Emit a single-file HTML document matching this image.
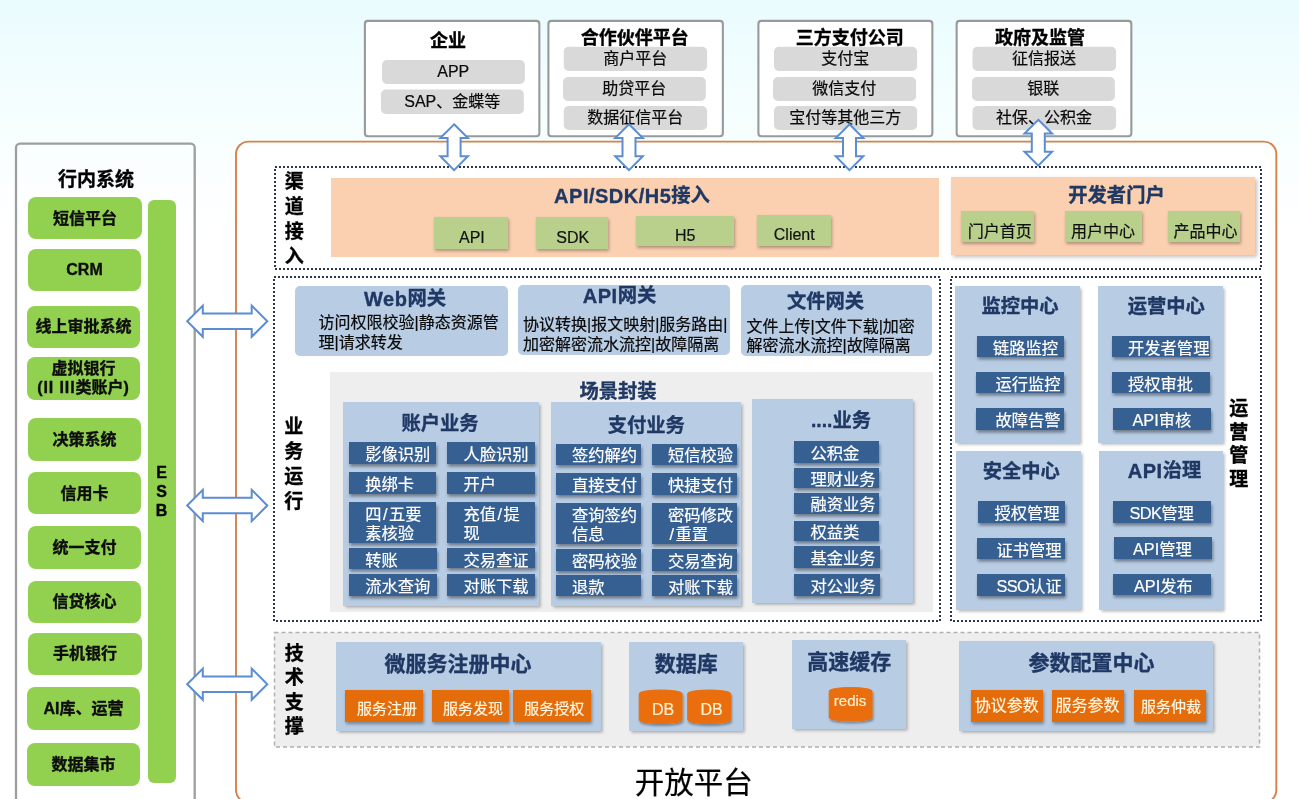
<!DOCTYPE html>
<html lang="zh-CN">
<head>
<meta charset="utf-8">
<title>开放平台</title>
<style>
html,body{margin:0;padding:0;}
body{width:1299px;height:799px;overflow:hidden;position:relative;font-family:"Liberation Sans", "Noto Sans CJK SC", sans-serif;
 background:linear-gradient(180deg,#eafcfe 0px,#effdfe 50px,#f5fefe 110px,#fbfeff 170px,#ffffff 240px);}
div{position:absolute;box-sizing:border-box;}
.stage{left:0;top:0;width:1299px;height:799px;overflow:hidden;will-change:transform;}
svg{position:absolute;left:0;top:0;}
.t{display:flex;align-items:center;justify-content:center;white-space:nowrap;line-height:1;}
.ttl-left{font-weight:bold;font-size:19px;color:#000;}
.g{background:#92d050;border-radius:8px;display:flex;align-items:center;justify-content:center;text-align:center;font-weight:bold;font-size:16px;line-height:19px;color:#0d0d0d;}
.g i{font-style:normal;letter-spacing:0.9px;}
.esb{background:#92d050;border-radius:6px;display:flex;align-items:center;justify-content:center;text-align:center;font-weight:bold;font-size:16px;line-height:19px;color:#000;}
.pilltxt{font-size:16px;color:#0a0a0a;}
.pilltxt,.gwt,.lg,.db,.ob,.cyltxt,.big{-webkit-text-stroke:0.2px currentColor;}
.ttl-left,.g,.ttl-top,.vt,.ttl,.ttl2{-webkit-text-stroke:0.35px currentColor;}
.ttl-top{font-weight:bold;font-size:18px;color:#000;}
.vt{font-weight:bold;color:#000;writing-mode:vertical-rl;text-orientation:upright;line-height:1;white-space:nowrap;}
.salmon{background:#fbd0b0;}
.sh{box-shadow:2px 2px 4px rgba(0,0,0,0.25);}
.sh1{box-shadow:1.5px 1.5px 3px rgba(0,0,0,0.3);}
.ttl{font-weight:bold;font-size:19.3px;color:#1f3864;}
.ttl i,.ttl2 i{font-style:normal;letter-spacing:0.5px;font-size:20px;}
.ttl2{font-weight:bold;font-size:21px;color:#1f3864;}
.lg{background:#b9d08c;box-shadow:1px 2px 3px rgba(0,0,0,0.3);display:flex;align-items:center;justify-content:center;font-size:16px;color:#111;line-height:1;}
.lg span{position:relative;}
.gw{background:#b8cce4;border-radius:5px;}
.gwt{justify-content:flex-start;align-items:flex-start;white-space:nowrap;font-size:16px;line-height:19.5px;color:#0a0a0a;display:block;}
.scene{background:#eeeeee;}
.blue{background:#b8cce4;}
.db{background:#376092;box-shadow:1px 2.5px 3px rgba(0,0,0,0.4);display:flex;align-items:center;justify-content:flex-start;font-size:16.3px;line-height:18.8px;color:#fff;white-space:nowrap;}
.db span{position:relative;}
.db u{text-decoration:none;margin:0 1.5px;}
.db i{font-style:normal;letter-spacing:-0.6px;}
.ob span{position:relative;}
.ob{background:#e46c0a;box-shadow:1px 2px 3px rgba(0,0,0,0.35);display:flex;align-items:center;justify-content:center;color:#fff6e0;line-height:1;white-space:nowrap;}
.cyltxt{color:#fff3cf;}
.big{font-size:29.5px;color:#000;}
</style>
</head>
<body>
<div class="stage">
<svg width="1299" height="799" viewBox="0 0 1299 799"><rect x="16" y="143.6" width="178.7" height="700" rx="4" fill="none" stroke="#9d9f9f" stroke-width="2.3"/></svg>
<div class="t ttl-left" style="left:-4px;top:165px;width:200px;height:28px;">行内系统</div>
<div class="g" style="left:28px;top:197px;width:114px;height:42px;"><span>短信平台</span></div>
<div class="g" style="left:28px;top:249px;width:113px;height:41.5px;"><span>CRM</span></div>
<div class="g" style="left:27px;top:306px;width:113px;height:41.5px;"><span>线上审批系统</span></div>
<div class="g" style="left:27px;top:357px;width:113px;height:42.5px;"><span>虚拟银行<br><i>(II III</i>类账户<i>)</i></span></div>
<div class="g" style="left:28px;top:418px;width:113px;height:42.5px;"><span>决策系统</span></div>
<div class="g" style="left:28px;top:472px;width:113px;height:42px;"><span>信用卡</span></div>
<div class="g" style="left:28px;top:526px;width:113px;height:42.5px;"><span>统一支付</span></div>
<div class="g" style="left:28px;top:581px;width:113px;height:41.5px;"><span>信贷核心</span></div>
<div class="g" style="left:28px;top:633px;width:114px;height:41.5px;"><span>手机银行</span></div>
<div class="g" style="left:27px;top:687px;width:113px;height:42.5px;"><span>AI库、运营</span></div>
<div class="g" style="left:27px;top:743px;width:113px;height:42.5px;"><span>数据集市</span></div>
<div class="esb" style="left:148px;top:200px;width:28px;height:582.5px;"></div>
<div class="vt" style="left:153px;top:463.5px;width:16px;font-size:16px;letter-spacing:2.1px;">ESB</div>
<svg width="1299" height="799" viewBox="0 0 1299 799"><rect x="364.9" y="20.9" width="174.45" height="115.3" rx="3" fill="#ffffff" stroke="#979a9a" stroke-width="2.1"/><rect x="382" y="60" width="142.85" height="24.0" rx="5" fill="#d9d9d9"/><rect x="381" y="89.5" width="142.85" height="24.5" rx="5" fill="#d9d9d9"/><rect x="548.4" y="20.9" width="174.45" height="115.3" rx="3" fill="#ffffff" stroke="#979a9a" stroke-width="2.1"/><rect x="563.75" y="46.75" width="143.35" height="24.25" rx="5" fill="#d9d9d9"/><rect x="563" y="77" width="142.85" height="24.0" rx="5" fill="#d9d9d9"/><rect x="563.75" y="106" width="143.35" height="24.0" rx="5" fill="#d9d9d9"/><rect x="758.4" y="20.9" width="173.95" height="115.3" rx="3" fill="#ffffff" stroke="#979a9a" stroke-width="2.1"/><rect x="774" y="46.75" width="143.1" height="24.25" rx="5" fill="#d9d9d9"/><rect x="773" y="77" width="143.1" height="24.0" rx="5" fill="#d9d9d9"/><rect x="774" y="106" width="143.1" height="24.0" rx="5" fill="#d9d9d9"/><rect x="956.65" y="20.9" width="174.7" height="115.3" rx="3" fill="#ffffff" stroke="#979a9a" stroke-width="2.1"/><rect x="972.5" y="46.75" width="143.6" height="24.25" rx="5" fill="#d9d9d9"/><rect x="972" y="77" width="142.85" height="24.0" rx="5" fill="#d9d9d9"/><rect x="972.5" y="106" width="143.6" height="24.0" rx="5" fill="#d9d9d9"/></svg>
<div class="t pilltxt" style="left:382px;top:60.6px;width:142.5px;height:23.5px;">APP</div>
<div class="t pilltxt" style="left:381px;top:90.1px;width:142.5px;height:24.0px;">SAP、金蝶等</div>
<div class="t ttl-top" style="left:348px;top:26.5px;width:200px;height:28px;">企业</div>
<div class="t pilltxt" style="left:563.75px;top:47.35px;width:143.0px;height:23.75px;">商户平台</div>
<div class="t pilltxt" style="left:563px;top:77.6px;width:142.5px;height:23.5px;">助贷平台</div>
<div class="t pilltxt" style="left:563.75px;top:106.6px;width:143.0px;height:23.5px;">数据征信平台</div>
<div class="t ttl-top" style="left:534.75px;top:23.5px;width:200px;height:28px;">合作伙伴平台</div>
<div class="t pilltxt" style="left:774px;top:47.35px;width:142.75px;height:23.75px;">支付宝</div>
<div class="t pilltxt" style="left:773px;top:77.6px;width:142.75px;height:23.5px;">微信支付</div>
<div class="t pilltxt" style="left:774px;top:106.6px;width:142.75px;height:23.5px;">宝付等其他三方</div>
<div class="t ttl-top" style="left:749.75px;top:23.5px;width:200px;height:28px;">三方支付公司</div>
<div class="t pilltxt" style="left:972.5px;top:47.35px;width:143.25px;height:23.75px;">征信报送</div>
<div class="t pilltxt" style="left:972px;top:77.6px;width:142.5px;height:23.5px;">银联</div>
<div class="t pilltxt" style="left:972.5px;top:106.6px;width:143.25px;height:23.5px;">社保、公积金</div>
<div class="t ttl-top" style="left:940px;top:23.5px;width:200px;height:28px;">政府及监管</div>
<svg width="1299" height="799" viewBox="0 0 1299 799"><rect x="236" y="141.6" width="1040.3" height="661" rx="12.5" fill="#ffffff" stroke="#d4834f" stroke-width="1.9"/></svg>
<svg class="lines" width="1299" height="799" viewBox="0 0 1299 799"><rect x="275" y="167" width="986" height="102" fill="none" stroke="#2c3550" stroke-width="2" stroke-dasharray="2 2"/><rect x="274" y="277" width="666" height="344" fill="none" stroke="#2c3550" stroke-width="2" stroke-dasharray="2 2"/><rect x="951" y="277" width="310" height="344" fill="none" stroke="#2c3550" stroke-width="2" stroke-dasharray="2 2"/><rect x="274.5" y="632.5" width="985" height="114.5" fill="#eeeeee" stroke="#b0b0b0" stroke-width="1.5" stroke-dasharray="4 3"/></svg>
<div class="vt" style="left:282.75px;top:170.5px;width:19px;font-size:19px;letter-spacing:6.13px;">渠道接入</div>
<div class="vt" style="left:282.25px;top:415.5px;width:19px;font-size:19px;letter-spacing:6.13px;">业务运行</div>
<div class="vt" style="left:282.75px;top:642.75px;width:19px;font-size:19px;letter-spacing:5.47px;">技术支撑</div>
<div class="vt" style="left:1227.25px;top:397.5px;width:19px;font-size:19px;letter-spacing:4.8px;">运营管理</div>
<div class="salmon" style="left:330.5px;top:178px;width:608.5px;height:78.6px;"></div>
<div class="salmon sh" style="left:950.75px;top:177px;width:304.5px;height:78px;"></div>
<div class="t ttl" style="left:532px;top:182px;width:200px;height:28px;"><i>API/SDK/H5</i>接入</div>
<div class="t ttl" style="left:1016.5px;top:182px;width:200px;height:28px;">开发者门户</div>
<div class="lg" style="left:434.25px;top:217px;width:73.25px;height:31.5px;"><span style="left:1px;top:5px">API</span></div>
<div class="lg" style="left:535.5px;top:217px;width:72.5px;height:31.5px;"><span style="left:1px;top:5px">SDK</span></div>
<div class="lg" style="left:635.5px;top:215.5px;width:98.25px;height:30.75px;"><span style="left:0.5px;top:5.25px">H5</span></div>
<div class="lg" style="left:757px;top:214.5px;width:73.5px;height:31.0px;"><span style="left:0.5px;top:4.75px">Client</span></div>
<div class="lg" style="left:960.5px;top:210.75px;width:73.75px;height:31.25px;"><span style="left:2.5px;top:6px">门户首页</span></div>
<div class="lg" style="left:1064.5px;top:210.75px;width:77.0px;height:31.25px;"><span style="left:0px;top:6px">用户中心</span></div>
<div class="lg" style="left:1167.75px;top:210.75px;width:72.5px;height:31.25px;"><span style="left:1.5px;top:6px">产品中心</span></div>
<div class="gw" style="left:295px;top:285.5px;width:213px;height:70.0px;"></div>
<div class="gw" style="left:518.25px;top:285px;width:211.75px;height:69.5px;"></div>
<div class="gw" style="left:740.75px;top:285px;width:191.25px;height:71px;"></div>
<div class="t ttl" style="left:305px;top:285px;width:200px;height:28px;"><i>Web</i>网关</div>
<div class="t ttl" style="left:519.5px;top:281.5px;width:200px;height:28px;"><i>API</i>网关</div>
<div class="t ttl" style="left:725.6px;top:287.25px;width:200px;height:28px;">文件网关</div>
<div class="t gwt" style="left:318.5px;top:313px;width:200px;height:40px;">访问权限校验|静态资源管<br>理|请求转发</div>
<div class="t gwt" style="left:523px;top:315px;width:215px;height:40px;">协议转换|报文映射|服务路由|<br>加密解密流水流控|故障隔离</div>
<div class="t gwt" style="left:746.5px;top:316.5px;width:200px;height:40px;">文件上传|文件下载|加密<br>解密流水流控|故障隔离</div>
<div class="scene" style="left:330px;top:372px;width:602.5px;height:240px;"></div>
<div class="t ttl" style="left:518px;top:377.25px;width:200px;height:28px;">场景封装</div>
<div class="blue sh1" style="left:342.5px;top:401.75px;width:196.0px;height:204.5px;"></div>
<div class="blue sh1" style="left:551.25px;top:402px;width:189.5px;height:204.25px;"></div>
<div class="blue sh1" style="left:752px;top:399.25px;width:160.5px;height:203.25px;"></div>
<div class="t ttl" style="left:340px;top:410px;width:200px;height:28px;">账户业务</div>
<div class="t ttl" style="left:546.25px;top:411.25px;width:200px;height:28px;">支付业务</div>
<div class="t ttl" style="left:741px;top:407px;width:200px;height:28px;">....业务</div>
<div class="db" style="left:349.25px;top:442px;width:86.5px;height:21.5px;"><span style="padding-left:16.0px;top:2px">影像识别</span></div>
<div class="db" style="left:447px;top:442px;width:87.5px;height:21.5px;"><span style="padding-left:16.5px;top:2px">人脸识别</span></div>
<div class="db" style="left:349.25px;top:472px;width:86.5px;height:21.5px;"><span style="padding-left:16.0px;top:2px">换绑卡</span></div>
<div class="db" style="left:447px;top:472px;width:87.5px;height:21.5px;"><span style="padding-left:16.5px;top:2px">开户</span></div>
<div class="db" style="left:349.25px;top:502px;width:86.5px;height:40.5px;"><span style="padding-left:16.0px;top:2px">四<u>/</u>五要<br>素核验</span></div>
<div class="db" style="left:447px;top:502px;width:87.5px;height:40.5px;"><span style="padding-left:16.5px;top:2px">充值<u>/</u>提<br>现</span></div>
<div class="db" style="left:349.25px;top:548px;width:87.25px;height:21.25px;"><span style="padding-left:16.0px;top:2px">转账</span></div>
<div class="db" style="left:447px;top:548px;width:87.5px;height:20.25px;"><span style="padding-left:16.5px;top:2px">交易查证</span></div>
<div class="db" style="left:349.25px;top:574px;width:87.25px;height:21.5px;"><span style="padding-left:16.0px;top:2px">流水查询</span></div>
<div class="db" style="left:447px;top:574px;width:87.5px;height:21.5px;"><span style="padding-left:16.5px;top:2px">对账下载</span></div>
<div class="db" style="left:555.75px;top:444.25px;width:85.0px;height:20.25px;"><span style="padding-left:16.25px;top:1.3px">签约解约</span></div>
<div class="db" style="left:652px;top:444.25px;width:84.75px;height:20.25px;"><span style="padding-left:16px;top:1.3px">短信校验</span></div>
<div class="db" style="left:555.75px;top:473px;width:85.0px;height:22px;"><span style="padding-left:16.25px;top:1.3px">直接支付</span></div>
<div class="db" style="left:652px;top:473px;width:84.75px;height:22px;"><span style="padding-left:16px;top:1.3px">快捷支付</span></div>
<div class="db" style="left:555.75px;top:503px;width:85.0px;height:40.75px;"><span style="padding-left:16.25px;top:1.3px">查询签约<br>信息</span></div>
<div class="db" style="left:652px;top:503px;width:84.75px;height:40.75px;"><span style="padding-left:16px;top:1.3px">密码修改<br><u>/</u>重置</span></div>
<div class="db" style="left:555.75px;top:549.25px;width:85.0px;height:21.25px;"><span style="padding-left:16.25px;top:1.3px">密码校验</span></div>
<div class="db" style="left:652px;top:549.25px;width:84.75px;height:21.25px;"><span style="padding-left:16px;top:1.3px">交易查询</span></div>
<div class="db" style="left:555.75px;top:575px;width:85.0px;height:21.25px;"><span style="padding-left:16.25px;top:1.3px">退款</span></div>
<div class="db" style="left:652px;top:575px;width:84.75px;height:21.25px;"><span style="padding-left:16px;top:1.3px">对账下载</span></div>
<div class="db" style="left:793.75px;top:441.25px;width:84.75px;height:21.25px;"><span style="padding-left:16.75px;top:1.5px">公积金</span></div>
<div class="db" style="left:793.75px;top:467.5px;width:84.75px;height:20.0px;"><span style="padding-left:16.75px;top:1.5px">理财业务</span></div>
<div class="db" style="left:793.75px;top:492.5px;width:84.75px;height:21.25px;"><span style="padding-left:16.75px;top:1.5px">融资业务</span></div>
<div class="db" style="left:793.75px;top:520.5px;width:84.75px;height:20.75px;"><span style="padding-left:16.75px;top:1.5px">权益类</span></div>
<div class="db" style="left:793.75px;top:546.25px;width:85.85px;height:21.25px;"><span style="padding-left:16.75px;top:1.5px">基金业务</span></div>
<div class="db" style="left:793.75px;top:574.25px;width:85.85px;height:21.25px;"><span style="padding-left:16.75px;top:1.5px">对公业务</span></div>
<div class="blue sh1" style="left:954.5px;top:285.75px;width:125.0px;height:157.5px;"></div>
<div class="blue sh1" style="left:1097.5px;top:285.75px;width:125.0px;height:157.5px;"></div>
<div class="blue sh1" style="left:955.75px;top:451.25px;width:125.0px;height:158.25px;"></div>
<div class="blue sh1" style="left:1098.75px;top:451.25px;width:124.5px;height:158.25px;"></div>
<div class="t ttl" style="left:920px;top:292.25px;width:200px;height:28px;">监控中心</div>
<div class="t ttl" style="left:1066.25px;top:292.25px;width:200px;height:28px;">运营中心</div>
<div class="t ttl" style="left:921.25px;top:457.75px;width:200px;height:28px;">安全中心</div>
<div class="t ttl" style="left:1064.5px;top:456.75px;width:200px;height:28px;"><i>API</i>治理</div>
<div class="db" style="left:977px;top:335.75px;width:86.75px;height:21.0px;"><span style="padding-left:16px;top:2px">链路监控</span></div>
<div class="db" style="left:975.75px;top:372px;width:88.0px;height:21.25px;"><span style="padding-left:19.75px;top:2px">运行监控</span></div>
<div class="db" style="left:975.75px;top:408px;width:88.0px;height:21.5px;"><span style="padding-left:19.75px;top:2px">故障告警</span></div>
<div class="db" style="left:1111.75px;top:335.75px;width:97.75px;height:21.0px;"><span style="padding-left:16.25px;top:2px">开发者管理</span></div>
<div class="db" style="left:1111.75px;top:372px;width:97.75px;height:21.25px;"><span style="padding-left:16.25px;top:2px">授权审批</span></div>
<div class="db" style="left:1113px;top:408px;width:97.5px;height:21.5px;"><span style="padding-left:19.5px;top:2px">API审核</span></div>
<div class="db" style="left:978px;top:500.75px;width:86.5px;height:21.75px;"><span style="padding-left:16.5px;top:2px">授权管理</span></div>
<div class="db" style="left:977px;top:538px;width:87.5px;height:20.75px;"><span style="padding-left:19.5px;top:2px">证书管理</span></div>
<div class="db" style="left:977px;top:573.75px;width:87.5px;height:21.75px;"><span style="padding-left:19.5px;top:2px"><i>SSO</i>认证</span></div>
<div class="db" style="left:1112.5px;top:500.75px;width:98.0px;height:21.75px;"><span style="padding-left:17.0px;top:2px"><i>SDK</i>管理</span></div>
<div class="db" style="left:1113.75px;top:537px;width:97.75px;height:21.75px;"><span style="padding-left:19.25px;top:2px">API管理</span></div>
<div class="db" style="left:1112.5px;top:573.75px;width:98.0px;height:20.75px;"><span style="padding-left:21.5px;top:2px">API发布</span></div>
<div class="blue sh1" style="left:335.5px;top:642.25px;width:265.75px;height:88.75px;"></div>
<div class="blue sh1" style="left:628.75px;top:641.5px;width:114.25px;height:89.25px;"></div>
<div class="blue sh1" style="left:792px;top:639.5px;width:113.5px;height:89.0px;"></div>
<div class="blue sh1" style="left:959.25px;top:641px;width:254.0px;height:89.75px;"></div>
<div class="t ttl2" style="left:358px;top:648.5px;width:200px;height:30px;">微服务注册中心</div>
<div class="t ttl2" style="left:586.25px;top:648.5px;width:200px;height:30px;">数据库</div>
<div class="t ttl2" style="left:749.25px;top:646px;width:200px;height:30px;">高速缓存</div>
<div class="t ttl2" style="left:991.5px;top:647.75px;width:200px;height:30px;">参数配置中心</div>
<div class="ob" style="left:344.5px;top:689.5px;width:78.0px;height:32.0px;font-size:15px;"><span style="left:3.5px;top:2.5px">服务注册</span></div>
<div class="ob" style="left:431.75px;top:689.5px;width:77.0px;height:32.0px;font-size:15px;"><span style="left:2.75px;top:2.5px">服务发现</span></div>
<div class="ob" style="left:513.25px;top:689.5px;width:77.25px;height:32.0px;font-size:15px;"><span style="left:2.5px;top:2.5px">服务授权</span></div>
<div class="ob" style="left:970.5px;top:689.75px;width:72.5px;height:32.25px;font-size:16px;"><span style="left:0px;top:0px">协议参数</span></div>
<div class="ob" style="left:1051.5px;top:689.5px;width:72.0px;height:32.0px;font-size:16px;"><span style="left:0px;top:0px">服务参数</span></div>
<div class="ob" style="left:1134px;top:689.5px;width:71.5px;height:32.0px;font-size:15px;"><span style="left:1.25px;top:1px">服务仲裁</span></div>
<svg width="1299" height="799" viewBox="0 0 1299 799"><defs><filter id="cs" x="-20%" y="-20%" width="150%" height="150%"><feDropShadow dx="1" dy="2" stdDeviation="1.3" flood-color="#000" flood-opacity="0.35"/></filter></defs><path d="M639.25,693.6 A21.375,3.6 0 0 1 682,693.6 L682,719.9 A21.375,3.6 0 0 1 639.25,719.9 Z" fill="#ea6e0a" stroke="#ea6e0a" stroke-width="1" stroke-linejoin="round" filter="url(#cs)"/><path d="M687.75,693.6 A21.375,3.6 0 0 1 730.5,693.6 L730.5,719.9 A21.375,3.6 0 0 1 687.75,719.9 Z" fill="#ea6e0a" stroke="#ea6e0a" stroke-width="1" stroke-linejoin="round" filter="url(#cs)"/><path d="M829.25,691.1 A21.375,3.6 0 0 1 872,691.1 L872,717.4 A21.375,3.6 0 0 1 829.25,717.4 Z" fill="#ea6e0a" stroke="#ea6e0a" stroke-width="1" stroke-linejoin="round" filter="url(#cs)"/></svg>
<div class="t cyltxt" style="left:641.75px;top:693px;width:42.75px;height:33.5px;font-size:16px;">DB</div>
<div class="t cyltxt" style="left:690.25px;top:693px;width:42.75px;height:33.5px;font-size:16px;">DB</div>
<div class="t cyltxt" style="left:828.75px;top:683.5px;width:42.75px;height:33.5px;font-size:15px;">redis</div>
<div class="t big" style="left:593.75px;top:765px;width:200px;height:36px;">开放平台</div>
<svg class="arrows" width="1299" height="799" viewBox="0 0 1299 799"><polygon points="187.2,321.2 202.8,305.6 202.8,313.5 251.7,313.5 251.7,305.6 267.3,321.2 251.7,336.8 251.7,328.9 202.8,328.9 202.8,336.8" fill="#ffffff" stroke="#5b8dd4" stroke-width="2" stroke-linejoin="miter"/><polygon points="187.2,505.5 202.8,489.9 202.8,497.8 251.7,497.8 251.7,489.9 267.3,505.5 251.7,521.1 251.7,513.2 202.8,513.2 202.8,521.1" fill="#ffffff" stroke="#5b8dd4" stroke-width="2" stroke-linejoin="miter"/><polygon points="187.2,684.2 202.8,668.6 202.8,676.5 251.7,676.5 251.7,668.6 267.3,684.2 251.7,699.8 251.7,691.9 202.8,691.9 202.8,699.8" fill="#ffffff" stroke="#5b8dd4" stroke-width="2" stroke-linejoin="miter"/><polygon points="454.1,124.3 467.9,138.1 460.6,138.1 460.6,156.3 467.9,156.3 454.1,170.1 440.3,156.3 447.6,156.3 447.6,138.1 440.3,138.1" fill="#ffffff" stroke="#5b8dd4" stroke-width="2" stroke-linejoin="miter"/><polygon points="629,124.3 642.8,138.1 635.5,138.1 635.5,156.3 642.8,156.3 629,170.1 615.2,156.3 622.5,156.3 622.5,138.1 615.2,138.1" fill="#ffffff" stroke="#5b8dd4" stroke-width="2" stroke-linejoin="miter"/><polygon points="849.5,124.3 863.3,138.1 856.0,138.1 856.0,156.3 863.3,156.3 849.5,170.1 835.7,156.3 843.0,156.3 843.0,138.1 835.7,138.1" fill="#ffffff" stroke="#5b8dd4" stroke-width="2" stroke-linejoin="miter"/><polygon points="1038.3,119.8 1052.1,133.6 1044.8,133.6 1044.8,151.8 1052.1,151.8 1038.3,165.6 1024.5,151.8 1031.8,151.8 1031.8,133.6 1024.5,133.6" fill="#ffffff" stroke="#5b8dd4" stroke-width="2" stroke-linejoin="miter"/></svg>
</div>
</body>
</html>
